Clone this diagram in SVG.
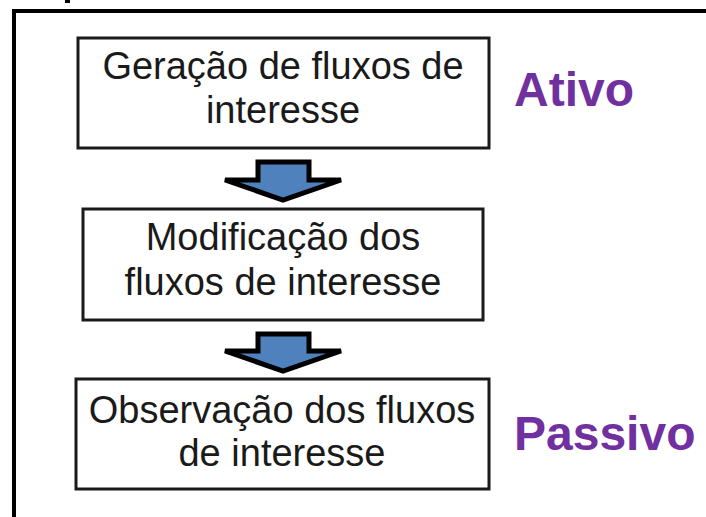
<svg xmlns="http://www.w3.org/2000/svg" width="706" height="517" viewBox="0 0 706 517">
<style>
.box{fill:#fff;stroke:#1a1a1a;stroke-width:3}
.t{font-family:"Liberation Sans",Arial,sans-serif;font-size:38px;fill:#1a1a1a;text-anchor:middle}
.lbl{font-family:"Liberation Sans",Arial,sans-serif;font-size:48px;font-weight:bold;fill:#7030A0}
.arr{fill:#4F81BD;stroke:#000;stroke-width:5;stroke-linejoin:miter}
</style>
<rect x="0" y="0" width="706" height="517" fill="#fff"/>
<rect x="65" y="0" width="5" height="3" fill="#000"/>
<path d="M14,520 V11 H710" fill="none" stroke="#000" stroke-width="4"/>
<g id="n1">
<rect class="box" x="78" y="38" width="411" height="110"/>
<text class="t" x="283" y="79">Geração de fluxos de</text>
<text class="t" x="283" y="123">interesse</text>
</g>
<g id="n2">
<rect class="box" x="83" y="209" width="400" height="111"/>
<text class="t" x="283" y="250">Modificação dos</text>
<text class="t" x="283" y="295">fluxos de interesse</text>
</g>
<g id="n3">
<rect class="box" x="76" y="379" width="413" height="110"/>
<text class="t" x="282" y="423">Observação dos fluxos</text>
<text class="t" x="282" y="466">de interesse</text>
</g>
<g id="lbl-ativo"><text class="lbl" x="514" y="106">Ativo</text></g>
<g id="lbl-passivo"><text class="lbl" x="514" y="450">Passivo</text></g>
<g id="connectors">
<polygon class="arr" points="258,162 309,162 309,180 341,180 283,200 225,180 258,180"/>
<polygon class="arr" points="258,334 309,334 309,351 341,351 283,371 225,351 258,351"/>
</g>
</svg>
